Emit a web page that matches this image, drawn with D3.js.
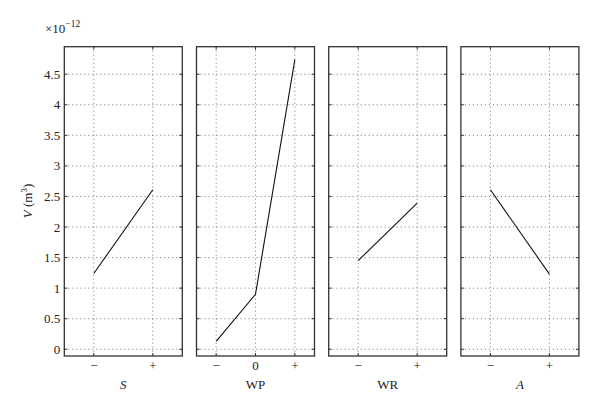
<!DOCTYPE html>
<html><head><meta charset="utf-8">
<script src="https://cdn.jsdelivr.net/npm/d3@7"></script>
<style>
html,body{margin:0;padding:0;background:#fff;}
</style></head>
<body>
<svg id="c" width="600" height="409" font-family="'Liberation Serif', 'DejaVu Serif', serif"></svg>
<script>
const panelNames = ["S", "WP", "WR", "A"];
const panelItalic = [true, false, false, true];
const levelLabels = [["−", "+"], ["−", "0", "+"], ["−", "+"], ["−", "+"]];
const seriesS = [1.24, 2.61];
const seriesWP = [0.13, 0.9, 4.74];
const seriesWR = [1.45, 2.39];
const seriesA = [2.61, 1.23];
const yTicks = [0, 0.5, 1, 1.5, 2, 2.5, 3, 3.5, 4, 4.5];
const allSeries = [seriesS, seriesWP, seriesWR, seriesA];

const svg = d3.select("#c");
const pTop = 46.7, pBottom = 356, pw = 118, gap = 14.2, left0 = 64.3;
const y = d3.scaleLinear().domain([-0.11, 4.95]).range([pBottom, pTop]);
const txt = "#222";

allSeries.forEach((vals, i) => {
  const x0 = left0 + i * (pw + gap);
  const n = vals.length;
  const x = d3.scaleLinear().domain([0.5, n + 0.5]).range([x0, x0 + pw]);
  const g = svg.append("g");
  const idx = d3.range(1, n + 1);
  // grid
  g.selectAll(".hg").data(yTicks).enter().append("line")
    .attr("x1", x0).attr("x2", x0 + pw)
    .attr("y1", d => y(d)).attr("y2", d => y(d))
    .attr("stroke", "#555").attr("stroke-width", 0.8).attr("stroke-dasharray", "1,3");
  g.selectAll(".vg").data(idx).enter().append("line")
    .attr("x1", d => x(d)).attr("x2", d => x(d))
    .attr("y1", pTop).attr("y2", pBottom)
    .attr("stroke", "#555").attr("stroke-width", 0.8).attr("stroke-dasharray", "1,3");
  // inner ticks
  g.selectAll(".tl").data(yTicks).enter().append("line")
    .attr("x1", x0).attr("x2", x0 + 3).attr("y1", d => y(d)).attr("y2", d => y(d))
    .attr("stroke", "#333").attr("stroke-width", 1);
  g.selectAll(".tr").data(yTicks).enter().append("line")
    .attr("x1", x0 + pw - 3).attr("x2", x0 + pw).attr("y1", d => y(d)).attr("y2", d => y(d))
    .attr("stroke", "#333").attr("stroke-width", 1);
  g.selectAll(".tb").data(idx).enter().append("line")
    .attr("x1", d => x(d)).attr("x2", d => x(d)).attr("y1", pBottom - 3).attr("y2", pBottom)
    .attr("stroke", "#333").attr("stroke-width", 1);
  g.selectAll(".tt").data(idx).enter().append("line")
    .attr("x1", d => x(d)).attr("x2", d => x(d)).attr("y1", pTop).attr("y2", pTop + 3)
    .attr("stroke", "#333").attr("stroke-width", 1);
  // frame
  g.append("rect").attr("x", x0).attr("y", pTop).attr("width", pw).attr("height", pBottom - pTop)
    .attr("fill", "none").attr("stroke", "#333").attr("stroke-width", 1.3);
  // data line
  g.append("path").datum(vals)
    .attr("d", d3.line().x((d, j) => x(j + 1)).y(d => y(d)))
    .attr("fill", "none").attr("stroke", "#111").attr("stroke-width", 1.1);
  // tick labels
  g.selectAll(".xl").data(levelLabels[i]).enter().append("text")
    .attr("x", (d, j) => x(j + 1)).attr("y", 370)
    .attr("text-anchor", "middle").attr("font-size", 13).attr("fill", txt).text(d => d);
  g.append("text").attr("x", x0 + pw / 2).attr("y", 389)
    .attr("text-anchor", "middle").attr("font-size", 13).attr("fill", txt)
    .attr("font-style", panelItalic[i] ? "italic" : "normal").text(panelNames[i]);
  if (i === 0) {
    g.selectAll(".yl").data(yTicks).enter().append("text")
      .attr("x", x0 - 4).attr("y", d => y(d) + 4.5)
      .attr("text-anchor", "end").attr("font-size", 13).attr("fill", txt).text(d => d);
  }
});

// exponent label
const ex = svg.append("text").attr("x", 45).attr("y", 33).attr("font-size", 13).attr("fill", txt);
ex.append("tspan").text("×10");
ex.append("tspan").attr("dy", -6).attr("font-size", 9.5).text("−12");

// y axis title
const yt = svg.append("text").attr("transform", "translate(32,201) rotate(-90)")
  .attr("text-anchor", "middle").attr("font-size", 13).attr("fill", txt);
yt.append("tspan").attr("font-style", "italic").text("V");
yt.append("tspan").text(" (m");
yt.append("tspan").attr("dy", -5).attr("font-size", 9).text("3");
yt.append("tspan").attr("dy", 5).text(")");
</script>
</body></html>
